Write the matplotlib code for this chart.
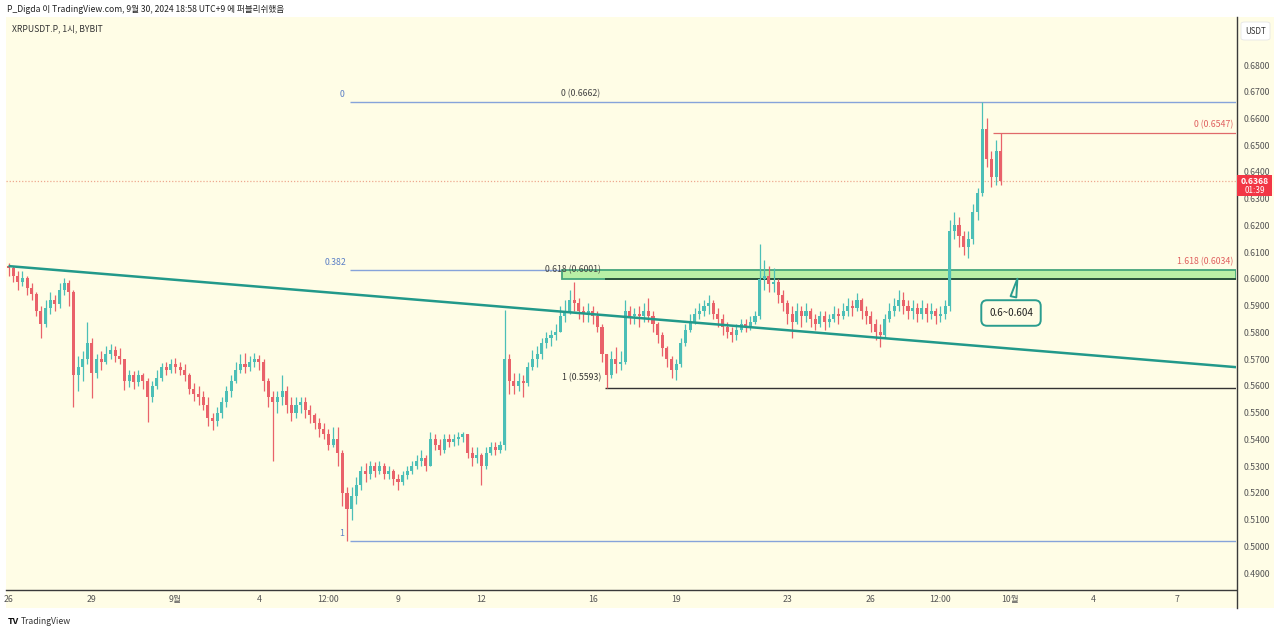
import numpy as np
import matplotlib
matplotlib.use("Agg")
import matplotlib.pyplot as plt
from matplotlib.patches import Rectangle, FancyBboxPatch
from matplotlib.lines import Line2D

plt.rcParams['font.family'] = ['Noto Sans CJK KR', 'DejaVu Sans']

# XRPUSDT.P, 4h candles from Aug 26 00:00 (UTC+9); open = previous close
first_open = 0.6050
closes = [
    0.6040, 0.6010, 0.5990, 0.6005, 0.5965, 0.5945,
    0.5880, 0.5830, 0.5890, 0.5920, 0.5905, 0.5960,
    0.5985, 0.5950, 0.5640, 0.5670, 0.5700, 0.5760,
    0.5650, 0.5700, 0.5690, 0.5720, 0.5735, 0.5710,
    0.5700, 0.5620, 0.5640, 0.5615, 0.5640, 0.5620,
    0.5560, 0.5600, 0.5630, 0.5670, 0.5660, 0.5680,
    0.5670, 0.5660, 0.5640, 0.5590, 0.5570, 0.5560,
    0.5530, 0.5480, 0.5470, 0.5500, 0.5540, 0.5580,
    0.5620, 0.5660, 0.5680, 0.5670, 0.5690, 0.5700,
    0.5690, 0.5620, 0.5560, 0.5540, 0.5560, 0.5580,
    0.5530, 0.5500, 0.5530, 0.5540, 0.5510, 0.5490,
    0.5460, 0.5440, 0.5420, 0.5380, 0.5400, 0.5350,
    0.5200, 0.5140, 0.5190, 0.5230, 0.5280, 0.5270,
    0.5300, 0.5280, 0.5300, 0.5270, 0.5280, 0.5250,
    0.5240, 0.5265, 0.5280, 0.5300, 0.5320, 0.5330,
    0.5300, 0.5400, 0.5380, 0.5360, 0.5400, 0.5390,
    0.5400, 0.5410, 0.5420, 0.5350, 0.5330, 0.5340,
    0.5300, 0.5350, 0.5370, 0.5360, 0.5380, 0.5700,
    0.5620, 0.5600, 0.5620, 0.5610, 0.5670, 0.5700,
    0.5720, 0.5760, 0.5780, 0.5790, 0.5800, 0.5860,
    0.5880, 0.5920, 0.5910, 0.5880, 0.5870, 0.5880,
    0.5860, 0.5820, 0.5720, 0.5640, 0.5700, 0.5680,
    0.5690, 0.5880, 0.5860, 0.5870, 0.5860, 0.5880,
    0.5860, 0.5830, 0.5790, 0.5740, 0.5700, 0.5660,
    0.5680, 0.5760, 0.5810, 0.5840, 0.5870, 0.5880,
    0.5900, 0.5910, 0.5870, 0.5850, 0.5820, 0.5800,
    0.5790, 0.5810, 0.5830, 0.5820, 0.5840, 0.5860,
    0.6000, 0.6010, 0.5980, 0.5990, 0.5940, 0.5910,
    0.5870, 0.5840, 0.5880, 0.5860, 0.5880, 0.5850,
    0.5830, 0.5860, 0.5840, 0.5850, 0.5870, 0.5860,
    0.5880, 0.5900, 0.5890, 0.5920, 0.5880, 0.5860,
    0.5830, 0.5800, 0.5790, 0.5850, 0.5880, 0.5900,
    0.5920, 0.5900, 0.5880, 0.5890, 0.5870, 0.5890,
    0.5870, 0.5880, 0.5860, 0.5870, 0.5900, 0.6180,
    0.6200, 0.6160, 0.6120, 0.6150, 0.6250, 0.6320,
    0.6560, 0.6450, 0.6380, 0.6480, 0.6368,
]
highs = [
    0.6060, 0.6050, 0.6030, 0.6030, 0.6010, 0.5985,
    0.5950, 0.5900, 0.5920, 0.5950, 0.5940, 0.5985,
    0.6005, 0.5995, 0.5960, 0.5710, 0.5730, 0.5840,
    0.5780, 0.5720, 0.5730, 0.5750, 0.5755, 0.5750,
    0.5740, 0.5700, 0.5660, 0.5655, 0.5660, 0.5650,
    0.5630, 0.5620, 0.5660, 0.5685, 0.5690, 0.5700,
    0.5705, 0.5690, 0.5680, 0.5650, 0.5610, 0.5600,
    0.5580, 0.5560, 0.5500, 0.5520, 0.5560, 0.5600,
    0.5640, 0.5690, 0.5720, 0.5723, 0.5710, 0.5723,
    0.5715, 0.5700, 0.5630, 0.5580, 0.5580, 0.5640,
    0.5600, 0.5560, 0.5560, 0.5560, 0.5560, 0.5530,
    0.5500, 0.5480, 0.5460, 0.5440, 0.5445, 0.5445,
    0.5360, 0.5220, 0.5220, 0.5260, 0.5300, 0.5310,
    0.5320, 0.5315, 0.5320, 0.5310, 0.5300, 0.5290,
    0.5270, 0.5280, 0.5300, 0.5320, 0.5340, 0.5360,
    0.5340, 0.5428, 0.5420, 0.5400, 0.5420, 0.5420,
    0.5420, 0.5428, 0.5428, 0.5420, 0.5370, 0.5370,
    0.5350, 0.5370, 0.5390, 0.5390, 0.5395, 0.5884,
    0.5720, 0.5650, 0.5650, 0.5640, 0.5690, 0.5734,
    0.5750, 0.5780, 0.5800, 0.5810, 0.5830, 0.5900,
    0.5920, 0.5960, 0.5988, 0.5930, 0.5900, 0.5910,
    0.5900, 0.5880, 0.5830, 0.5720, 0.5730, 0.5745,
    0.5730, 0.5920, 0.5900, 0.5890, 0.5900, 0.5910,
    0.5929, 0.5880, 0.5840, 0.5800, 0.5750, 0.5710,
    0.5700, 0.5780, 0.5830, 0.5870, 0.5890, 0.5910,
    0.5920, 0.5940, 0.5920, 0.5890, 0.5870, 0.5840,
    0.5820, 0.5830, 0.5850, 0.5850, 0.5860, 0.5880,
    0.6130, 0.6070, 0.6050, 0.6040, 0.6000, 0.5960,
    0.5920, 0.5900, 0.5910, 0.5900, 0.5910, 0.5890,
    0.5870, 0.5880, 0.5880, 0.5870, 0.5900, 0.5890,
    0.5910, 0.5930, 0.5920, 0.5947, 0.5930, 0.5900,
    0.5880, 0.5850, 0.5830, 0.5870, 0.5910, 0.5930,
    0.5960, 0.5950, 0.5920, 0.5920, 0.5910, 0.5920,
    0.5910, 0.5910, 0.5890, 0.5900, 0.5920, 0.6220,
    0.6250, 0.6230, 0.6180, 0.6180, 0.6280, 0.6340,
    0.6662, 0.6600, 0.6480, 0.6520, 0.6547,
]
lows = [
    0.6010, 0.5990, 0.5960, 0.5975, 0.5940, 0.5920,
    0.5860, 0.5780, 0.5820, 0.5870, 0.5880, 0.5890,
    0.5940, 0.5900, 0.5520, 0.5580, 0.5620, 0.5680,
    0.5555, 0.5630, 0.5660, 0.5680, 0.5700, 0.5690,
    0.5680, 0.5585, 0.5595, 0.5590, 0.5600, 0.5590,
    0.5466, 0.5540, 0.5590, 0.5620, 0.5640, 0.5650,
    0.5650, 0.5640, 0.5620, 0.5570, 0.5545, 0.5530,
    0.5510, 0.5450, 0.5435, 0.5450, 0.5480, 0.5520,
    0.5560, 0.5610, 0.5650, 0.5650, 0.5655, 0.5670,
    0.5660, 0.5580, 0.5520, 0.5320, 0.5500, 0.5530,
    0.5500, 0.5470, 0.5480, 0.5500, 0.5480, 0.5460,
    0.5440, 0.5410, 0.5400, 0.5360, 0.5370, 0.5300,
    0.5150, 0.5020, 0.5100, 0.5160, 0.5210, 0.5240,
    0.5250, 0.5260, 0.5270, 0.5250, 0.5250, 0.5230,
    0.5210, 0.5230, 0.5250, 0.5270, 0.5290, 0.5300,
    0.5280, 0.5300, 0.5360, 0.5340, 0.5350, 0.5370,
    0.5375, 0.5380, 0.5390, 0.5330, 0.5300, 0.5310,
    0.5230, 0.5290, 0.5340, 0.5340, 0.5350, 0.5360,
    0.5570, 0.5570, 0.5580, 0.5560, 0.5600, 0.5660,
    0.5670, 0.5700, 0.5740, 0.5750, 0.5770, 0.5800,
    0.5840, 0.5870, 0.5880, 0.5850, 0.5840, 0.5840,
    0.5830, 0.5800, 0.5690, 0.5593, 0.5630, 0.5650,
    0.5660, 0.5680, 0.5830, 0.5830, 0.5820, 0.5840,
    0.5840, 0.5800, 0.5760, 0.5710, 0.5670, 0.5630,
    0.5622, 0.5670, 0.5750, 0.5800, 0.5830, 0.5850,
    0.5860, 0.5870, 0.5850, 0.5820, 0.5790, 0.5780,
    0.5764, 0.5770, 0.5800, 0.5800, 0.5810, 0.5830,
    0.5850, 0.5960, 0.5950, 0.5950, 0.5910, 0.5880,
    0.5830, 0.5780, 0.5830, 0.5820, 0.5840, 0.5820,
    0.5810, 0.5820, 0.5810, 0.5820, 0.5840, 0.5830,
    0.5850, 0.5860, 0.5860, 0.5880, 0.5850, 0.5830,
    0.5800, 0.5770, 0.5745, 0.5780, 0.5840, 0.5860,
    0.5880, 0.5870, 0.5850, 0.5850, 0.5840, 0.5850,
    0.5840, 0.5850, 0.5830, 0.5840, 0.5850, 0.5880,
    0.6150, 0.6120, 0.6090, 0.6078, 0.6130, 0.6220,
    0.6310, 0.6420, 0.6344, 0.6350, 0.6350,
]

day_ticks = [0, 3, 6, 9, 11.5, 14, 17, 21, 24, 28, 31, 33.5, 36, 39, 42]
day_labels = ["26", "29", "9월", "4", "12:00", "9", "12", "16", "19", "23",
              "26", "12:00", "10월", "4", "7"]
price_ticks = [0.49, 0.50, 0.51, 0.52, 0.53, 0.54, 0.55, 0.56, 0.57, 0.58,
               0.59, 0.60, 0.61, 0.62, 0.63, 0.64, 0.65, 0.66, 0.67, 0.68]

# drawings
blue_fib_levels = [0.6662, 0.6035, 0.5020]
blue_fib_names = ["0", "0.382", "1"]
black_fib_levels = [0.6001, 0.5593]
black_fib_names = ["0.618 (0.6001)", "1 (0.5593)"]
red_fib_levels = [0.6547, 0.6034]
red_fib_names = ["0 (0.6547)", "1.618 (0.6034)"]
zone = [0.6001, 0.6034]
trend_days = [0, 44.125]
trend_prices = [0.6048, 0.5670]
last_price = 0.6368
countdown = "01:39"

W, H = 1280, 634
CREAM = "#fffde6"
UP, DOWN = "#4cbfb7", "#e9626a"
FS = 6.3

def fx(px):
    return px / W

def fy(py):
    return 1 - py / H

# pixel -> data for placing labels
def xd(px):
    return (px - 8.5) / 27.82

def yd(py):
    return 0.68 - (py - 65) / 2674.0

fig = plt.figure(figsize=(W / 100, H / 100), dpi=100)
fig.patch.set_facecolor("white")
fig.add_artist(Rectangle((fx(6), fy(608)), fx(1268), 591 / H, transform=fig.transFigure,
                         facecolor=CREAM, edgecolor="none", zorder=-10))

ax = fig.add_axes([fx(6), fy(590), fx(1230), 573 / H])
ax.set_facecolor("none")
ax.set_xlim(xd(6), xd(1236))
ax.set_ylim(yd(590), yd(17))

# candles
c = np.array(closes)
hi = np.array(highs)
lo = np.array(lows)
o = np.r_[first_open, c[:-1]]
t = np.arange(len(c)) / 6.0
cols = np.where(c >= o, UP, DOWN)
ax.vlines(t, lo, hi, colors=cols, lw=0.9, zorder=3)
body = np.maximum(np.abs(c - o), 0.0004)
ax.bar(t, body, width=0.11, bottom=np.minimum(o, c), color=cols, lw=0, zorder=3)

# trend line
ax.plot(trend_days, trend_prices, color="#22998a", lw=1.8, zorder=4, solid_capstyle="butt")

# blue fib (Sep 7 low -> Sep 30 high)
bx0 = xd(350)
ax.hlines(blue_fib_levels[0], bx0, xd(1236), color="#86a3da", lw=1, zorder=2)
ax.hlines(blue_fib_levels[1], bx0, xd(562), color="#86a3da", lw=1, zorder=2)
ax.hlines(blue_fib_levels[2], bx0, xd(1236), color="#86a3da", lw=1, zorder=2)
ax.text(xd(342), yd(94), blue_fib_names[0], color="#5b7fc6", fontsize=FS, ha="center", va="center")
ax.text(xd(346), yd(262), blue_fib_names[1], color="#5b7fc6", fontsize=FS, ha="right", va="center")
ax.text(xd(342), yd(533), blue_fib_names[2], color="#5b7fc6", fontsize=FS, ha="center", va="center")
ax.text(xd(581), yd(94), "0 (%.4f)" % blue_fib_levels[0], color="#444444", fontsize=FS,
        ha="center", va="center")

# green zone
ax.add_patch(Rectangle((xd(562), zone[0]), xd(1236) - xd(562), zone[1] - zone[0],
                       facecolor="#b9efa6", edgecolor="#45a57c", lw=1.3, zorder=2))

# black fib
ax.hlines(black_fib_levels[0], xd(605), xd(1236), color="#1f3a2b", lw=1.1, zorder=2.5)
ax.hlines(black_fib_levels[1], xd(605), xd(1236), color="#333333", lw=1, zorder=2)
ax.text(xd(573), yd(270), black_fib_names[0], color="#444444", fontsize=FS, ha="center",
        va="center", zorder=5)
ax.text(xd(601), yd(378), black_fib_names[1], color="#333333", fontsize=FS, ha="right",
        va="center")

# red fib
ax.hlines(red_fib_levels[0], xd(993), xd(1236), color="#e06a6a", lw=0.9, zorder=2)
ax.text(xd(1233), yd(125), red_fib_names[0], color="#e0605f", fontsize=FS, ha="right", va="center")
ax.text(xd(1233), yd(262), red_fib_names[1], color="#e0605f", fontsize=FS, ha="right", va="center")

# last price dotted line
ax.axhline(last_price, color="#eea88f", lw=0.9, ls=(0, (1, 1.5)), zorder=1)

# callout
ax.annotate("0.6~0.604", xy=(xd(1018), yd(276)), xytext=(xd(1011), yd(313)),
            textcoords="data", ha="center", va="center", fontsize=7, color="#222222",
            zorder=6,
            bbox=dict(boxstyle="round,pad=0.8,rounding_size=0.6", fc=CREAM, ec="#2a9d8f", lw=1.4),
            arrowprops=dict(arrowstyle="wedge,tail_width=0.6,shrink_factor=0.5", fc=CREAM,
                            ec="#2a9d8f", lw=1.4, relpos=(0.5, 1.0)))

# axes styling
for s in ["top", "left", "right"]:
    ax.spines[s].set_visible(False)
ax.spines["bottom"].set_color("#3a3a3a")
ax.spines["bottom"].set_linewidth(1)
ax.yaxis.tick_right()
ax.set_yticks(price_ticks)
ax.set_yticklabels(["%.4f" % v for v in price_ticks])
ax.set_xticks(day_ticks)
ax.set_xticklabels(day_labels)
ax.tick_params(axis="y", length=0, pad=5.5, labelsize=FS, labelcolor="#555555")
ax.tick_params(axis="x", length=0, pad=3.5, labelsize=FS, labelcolor="#555555")

# price scale divider
fig.add_artist(Line2D([fx(1236.5), fx(1236.5)], [fy(17), fy(608)], transform=fig.transFigure,
                      color="#3a3a3a", lw=1))

# last price label
fig.add_artist(Rectangle((fx(1237), fy(196)), fx(35), 21 / H, transform=fig.transFigure,
                         facecolor="#f23645", edgecolor="none", zorder=5))
fig.text(fx(1254.5), fy(181), "%.4f" % last_price, color="white", fontsize=6.2, fontweight="bold",
         ha="center", va="center", zorder=6)
fig.text(fx(1254.5), fy(190.5), countdown, color="white", fontsize=5.8, ha="center", va="center",
         zorder=6)

# USDT box
fig.add_artist(FancyBboxPatch((fx(1241), fy(40)), fx(29), 18 / H, transform=fig.transFigure,
                              boxstyle="round,pad=0,rounding_size=0.003", facecolor="white",
                              edgecolor="#e6e6e6", lw=0.6, zorder=5))
fig.text(fx(1255.5), fy(31), "USDT", color="#333333", fontsize=5.8, ha="center", va="center", zorder=6)

# header / title / footer
fig.text(fx(7), fy(9), "P_Digda 이 TradingView.com, 9월 30, 2024 18:58 UTC+9 에 퍼블리쉬했음",
         fontsize=6.2, color="#222222", ha="left", va="center")
fig.text(fx(12), fy(29), "XRPUSDT.P, 1시, BYBIT", fontsize=6.2, color="#333333", ha="left", va="center")
fig.text(fx(8), fy(621), "TV", fontsize=6.5, fontweight="bold", color="#111111", ha="left", va="center")
fig.text(fx(21), fy(621), "TradingView", fontsize=6.2, color="#333333", ha="left", va="center")

fig.savefig("out.png", dpi=100, facecolor=fig.get_facecolor())
